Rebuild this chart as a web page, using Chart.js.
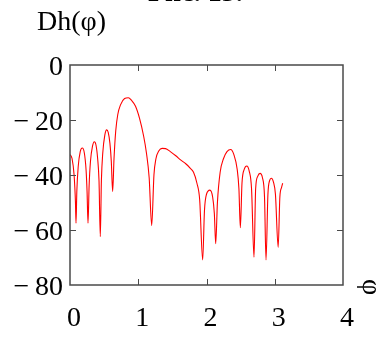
<!DOCTYPE html>
<html>
<head>
<meta charset="utf-8">
<script src="https://cdn.jsdelivr.net/npm/chart.js@4.4.1/dist/chart.umd.min.js"></script>
<style>
  html, body { margin: 0; padding: 0; background: #fff; }
  #wrap { width: 382px; height: 338px; position: relative; }
</style>
</head>
<body>
<div id="wrap"><canvas id="dhChart"></canvas></div>
<script>
// ─── Data ───────────────────────────────────────────────────────────────────
const phi = [
  0.00, 0.03, 0.06, 0.08, 0.088, 0.10, 0.12, 0.15, 0.18, 0.21,
  0.235, 0.25, 0.264, 0.28, 0.30, 0.33, 0.356, 0.38, 0.405, 0.425,
  0.444, 0.46, 0.48, 0.51, 0.537, 0.56, 0.585, 0.605, 0.625, 0.645,
  0.67, 0.70, 0.74, 0.80, 0.855, 0.90, 0.96, 1.02, 1.08, 1.12,
  1.16, 1.197, 1.23, 1.26, 1.30, 1.35, 1.40, 1.47, 1.55, 1.62,
  1.70, 1.76, 1.81, 1.86, 1.90, 1.944, 1.97, 2.00, 2.05, 2.09,
  2.115, 2.135, 2.16, 2.20, 2.25, 2.30, 2.354, 2.40, 2.45, 2.475,
  2.496, 2.52, 2.555, 2.59, 2.625, 2.66, 2.696, 2.72, 2.75, 2.784,
  2.82, 2.85, 2.872, 2.90, 2.925, 2.95, 2.98, 3.01, 3.05, 3.075,
  3.10, 3.116
];
const dh = [
  -32.5, -34, -40, -50, -57.5, -46, -37, -31.5, -30.2, -32,
  -38, -46, -57.5, -44, -35, -29.5, -27.9, -29, -34, -42,
  -62.4, -42, -32, -25.5, -23.6, -24.5, -28.5, -35, -46, -34,
  -24, -18, -14.5, -12.2, -11.9, -12.8, -15, -19.5, -26, -32,
  -41, -58.4, -40, -34, -31.3, -30.3, -30.4, -31.5, -33, -34.5,
  -36, -37.5, -39, -43, -49, -70.9, -53, -47, -45.5, -48,
  -54, -65, -50, -39, -34, -31.5, -30.7, -32.5, -38, -45,
  -59.2, -43, -37.8, -36.7, -38.5, -45, -69.9, -45, -40.5, -39.4,
  -41, -48, -70.9, -47, -42, -41.2, -42.5, -47, -66.3, -48,
  -44.5, -43
];
const xTicks = [0, 1, 2, 3, 4];
const yTicks = [0, -20, -40, -60, -80];

const serif = 'Liberation Serif';

// frame + inward ticks on all four sides, plus the loose labels
const framePlugin = {
  id: 'frame',
  afterDraw(chart) {
    const { ctx, chartArea: a, scales: { x, y } } = chart;
    ctx.save();
    ctx.strokeStyle = '#4a4a4a';
    ctx.lineWidth = 1.5;
    ctx.strokeRect(a.left, a.top, a.right - a.left, a.bottom - a.top);
    ctx.lineWidth = 1;
    ctx.beginPath();
    xTicks.slice(1, -1).forEach(v => {
      const px = Math.round(x.getPixelForValue(v)) + 0.5;
      ctx.moveTo(px, a.bottom); ctx.lineTo(px, a.bottom - 6);
      ctx.moveTo(px, a.top); ctx.lineTo(px, a.top + 6);
    });
    yTicks.slice(1, -1).forEach(v => {
      const py = Math.round(y.getPixelForValue(v)) + 0.5;
      ctx.moveTo(a.left, py); ctx.lineTo(a.left + 6, py);
      ctx.moveTo(a.right, py); ctx.lineTo(a.right - 6, py);
    });
    ctx.stroke();

    ctx.fillStyle = '#000';
    ctx.font = `28px "${serif}"`;
    ctx.textAlign = 'left';
    ctx.textBaseline = 'alphabetic';
    ctx.fillText('Dh(φ)', 37, 30);

    ctx.save();
    ctx.translate(370, 287);
    ctx.rotate(Math.PI / 2);
    ctx.textAlign = 'center';
    ctx.textBaseline = 'middle';
    ctx.fillText('φ', 0, 0);
    ctx.restore();

    // caption above, cut off by the top edge
    ctx.font = `bold 28px "${serif}"`;
    ctx.fillText('Рис. 13.', 148, 1);
    ctx.restore();
  },
};

new Chart(document.getElementById('dhChart'), {
  type: 'line',
  data: {
    datasets: [{
      data: phi.map((p, i) => ({ x: p, y: dh[i] })),
      borderColor: '#ff0000',
      borderWidth: 1.1,
      pointRadius: 0,
      cubicInterpolationMode: 'monotone',
    }],
  },
  options: {
    responsive: true,
    maintainAspectRatio: false,
    animation: false,
    layout: { padding: { top: 65, right: 39, left: 0, bottom: 0 } },
    plugins: { legend: { display: false }, tooltip: { enabled: false } },
    scales: {
      x: {
        type: 'linear',
        min: 0, max: 4,
        afterBuildTicks: (s) => { s.ticks = xTicks.map(v => ({ value: v })); },
        afterFit: (s) => { s.height = 53; },
        grid: { display: false, drawTicks: false },
        border: { display: false },
        ticks: { color: '#000', font: { family: serif, size: 28 }, padding: 17, labelOffset: 4, maxRotation: 0 },
      },
      y: {
        min: -80, max: 0,
        afterBuildTicks: (s) => { s.ticks = yTicks.map(v => ({ value: v })); },
        afterFit: (s) => { s.width = 70; },
        grid: { display: false, drawTicks: false },
        border: { display: false },
        ticks: {
          color: '#000',
          font: { family: serif, size: 28 },
          padding: 7,
          labelOffset: 3,
          callback: (v) => v < 0 ? '−\u2009' + (-v) : String(v),
        },
      },
    },
  },
  plugins: [framePlugin],
});
</script>
</body>
</html>
